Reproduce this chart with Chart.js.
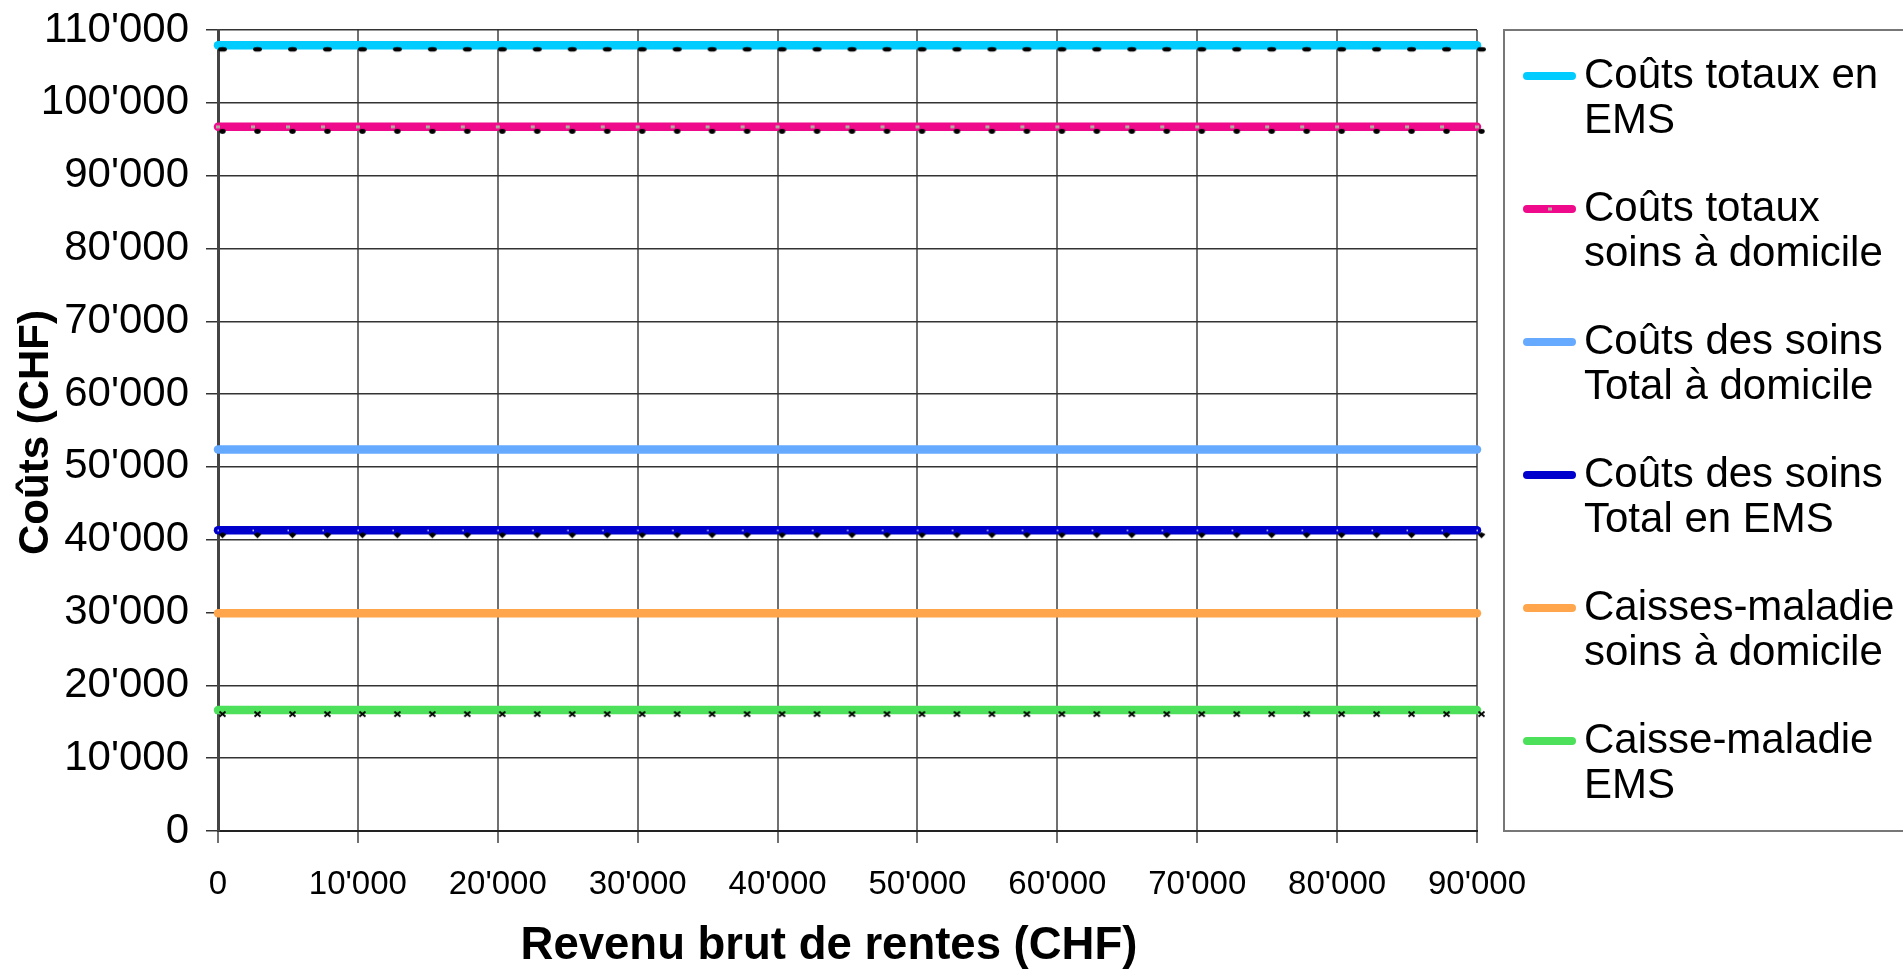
<!DOCTYPE html>
<html>
<head>
<meta charset="utf-8">
<script src="https://cdn.jsdelivr.net/npm/chart.js@4.4.1/dist/chart.umd.min.js"></script>
<style>
  html, body { margin: 0; padding: 0; background: #fff; }
  #wrap { width: 1903px; height: 969px; }
</style>
</head>
<body>
<div id="wrap"><canvas id="myChart" width="1903" height="969"></canvas></div>
<script>
// revenue steps (CHF)
var revenus = [0, 2500, 5000, 7500, 10000, 12500, 15000, 17500, 20000, 22500, 25000, 27500,
  30000, 32500, 35000, 37500, 40000, 42500, 45000, 47500, 50000, 52500, 55000, 57500,
  60000, 62500, 65000, 67500, 70000, 72500, 75000, 77500, 80000, 82500, 85000, 87500, 90000];

var coutsTotauxEMS = [107900, 107900, 107900, 107900, 107900, 107900, 107900, 107900, 107900, 107900,
  107900, 107900, 107900, 107900, 107900, 107900, 107900, 107900, 107900, 107900, 107900, 107900,
  107900, 107900, 107900, 107900, 107900, 107900, 107900, 107900, 107900, 107900, 107900, 107900,
  107900, 107900, 107900];
var coutsTotauxDomicile = [96700, 96700, 96700, 96700, 96700, 96700, 96700, 96700, 96700, 96700,
  96700, 96700, 96700, 96700, 96700, 96700, 96700, 96700, 96700, 96700, 96700, 96700, 96700,
  96700, 96700, 96700, 96700, 96700, 96700, 96700, 96700, 96700, 96700, 96700, 96700, 96700, 96700];
var soinsTotalDomicile = [52400, 52400, 52400, 52400, 52400, 52400, 52400, 52400, 52400, 52400,
  52400, 52400, 52400, 52400, 52400, 52400, 52400, 52400, 52400, 52400, 52400, 52400, 52400,
  52400, 52400, 52400, 52400, 52400, 52400, 52400, 52400, 52400, 52400, 52400, 52400, 52400, 52400];
var soinsTotalEMS = [41300, 41300, 41300, 41300, 41300, 41300, 41300, 41300, 41300, 41300,
  41300, 41300, 41300, 41300, 41300, 41300, 41300, 41300, 41300, 41300, 41300, 41300, 41300,
  41300, 41300, 41300, 41300, 41300, 41300, 41300, 41300, 41300, 41300, 41300, 41300, 41300, 41300];
var caissesDomicile = [29900, 29900, 29900, 29900, 29900, 29900, 29900, 29900, 29900, 29900,
  29900, 29900, 29900, 29900, 29900, 29900, 29900, 29900, 29900, 29900, 29900, 29900, 29900,
  29900, 29900, 29900, 29900, 29900, 29900, 29900, 29900, 29900, 29900, 29900, 29900, 29900, 29900];
var caisseEMS = [16600, 16600, 16600, 16600, 16600, 16600, 16600, 16600, 16600, 16600,
  16600, 16600, 16600, 16600, 16600, 16600, 16600, 16600, 16600, 16600, 16600, 16600, 16600,
  16600, 16600, 16600, 16600, 16600, 16600, 16600, 16600, 16600, 16600, 16600, 16600, 16600, 16600];

var seriesNames = [
  ['Coûts totaux en', 'EMS'],
  ['Coûts totaux', 'soins à domicile'],
  ['Coûts des soins', 'Total à domicile'],
  ['Coûts des soins', 'Total en EMS'],
  ['Caisses-maladie', 'soins à domicile'],
  ['Caisse-maladie', 'EMS']
];
var seriesValues = [coutsTotauxEMS, coutsTotauxDomicile, soinsTotalDomicile, soinsTotalEMS, caissesDomicile, caisseEMS];
var seriesColors = ['#00ccff', '#ee0a8a', '#66aaff', '#0000cc', '#ffa64d', '#4de05a'];
var seriesMarkers = ['dash', 'dot', null, 'diamond', null, 'cross'];

var yTitle = 'Coûts (CHF)';
var xTitle = 'Revenu brut de rentes (CHF)';

var FONT = '"Liberation Sans", Arial, sans-serif';

function fmt(v) {
  return String(v).replace(/\B(?=(\d{3})+(?!\d))/g, "'");
}

// marker image: black mark a few px below-right of the point, like the original
function makeMarker(kind) {
  if (!kind) return false;
  var c = document.createElement('canvas');
  c.width = 24; c.height = 24;
  var g = c.getContext('2d');
  var mx = 16.5, my = 16;
  g.fillStyle = '#000';
  g.strokeStyle = '#000';
  if (kind === 'dash') {
    g.beginPath(); g.ellipse(mx, my, 4.5, 2.3, 0, 0, Math.PI * 2); g.fill();
  } else if (kind === 'dot') {
    g.fillStyle = '#b0b0a0';
    g.fillRect(10, 10.5, 4, 3);
    g.fillStyle = '#000';
    g.beginPath(); g.ellipse(mx, my + 0.5, 3.2, 2.4, 0, 0, Math.PI * 2); g.fill();
  } else if (kind === 'diamond') {
    g.fillStyle = '#dde';
    g.fillRect(11.5, 11.5, 1.5, 1.5);
    g.fillStyle = '#000';
    g.beginPath();
    g.moveTo(mx - 4, my); g.lineTo(mx, my - 2); g.lineTo(mx + 4, my); g.lineTo(mx, my + 4);
    g.closePath(); g.fill();
  } else if (kind === 'cross') {
    g.lineWidth = 1.8;
    g.beginPath();
    g.moveTo(mx - 3, my - 2.5); g.lineTo(mx + 3, my + 2.5);
    g.moveTo(mx + 3, my - 2.5); g.lineTo(mx - 3, my + 2.5);
    g.stroke();
  }
  return c;
}

var datasets = seriesValues.map(function(vals, i) {
  var marker = makeMarker(seriesMarkers[i]);
  return {
    label: seriesNames[i].join(' '),
    data: vals.map(function(v, j) { return { x: revenus[j], y: v }; }),
    borderColor: seriesColors[i],
    backgroundColor: seriesColors[i],
    borderWidth: 8.5,
    borderCapStyle: 'round',
    pointStyle: marker || 'circle',
    pointRadius: marker ? 5 : 0,
    pointHoverRadius: 0,
    clip: false,
    tension: 0
  };
});

var frame = {
  id: 'frame',
  afterDraw: function(chart) {
    var ctx = chart.ctx, area = chart.chartArea;
    ctx.save();
    ctx.fillStyle = '#000';
    ctx.textAlign = 'center';
    ctx.textBaseline = 'middle';

    // axis titles
    ctx.font = 'bold 42px ' + FONT;
    ctx.save();
    ctx.translate(36, (area.top + area.bottom) / 2 + 2);
    ctx.rotate(-Math.PI / 2);
    ctx.fillText(yTitle, 0, 0);
    ctx.restore();
    ctx.font = 'bold 45.5px ' + FONT;
    ctx.fillText(xTitle, 829, 946);

    // legend box
    var lx = 1504, ly = area.top, lb = area.bottom;
    ctx.strokeStyle = '#777';
    ctx.lineWidth = 2;
    ctx.strokeRect(lx, ly, 1903 - lx + 10, lb - ly);

    ctx.textAlign = 'left';
    ctx.font = '42px ' + FONT;
    chart.data.datasets.forEach(function(ds, i) {
      var y = ly + 46 + i * 133;
      ctx.strokeStyle = ds.borderColor;
      ctx.lineWidth = 8;
      ctx.lineCap = 'round';
      ctx.beginPath(); ctx.moveTo(1527, y); ctx.lineTo(1572, y); ctx.stroke();
      if (seriesMarkers[i] === 'dot') {
        ctx.fillStyle = '#b0b0a0';
        ctx.fillRect(1548, y - 1.5, 4, 3);
      }
      ctx.fillStyle = '#000';
      seriesNames[i].forEach(function(line, k) {
        ctx.fillText(line, 1584, y + k * 45);
      });
    });
    ctx.restore();
  }
};

var ctx = document.getElementById('myChart').getContext('2d');
var chart = new Chart(ctx, {
  type: 'line',
  data: { datasets: datasets },
  plugins: [frame],
  options: {
    responsive: false,
    animation: false,
    events: [],
    layout: { padding: { left: 0, top: 30, right: 426, bottom: 0 } },
    plugins: {
      legend: { display: false },
      tooltip: { enabled: false }
    },
    scales: {
      x: {
        type: 'linear',
        min: 0,
        max: 90000,
        ticks: {
          stepSize: 10000,
          padding: 22,
          color: '#000',
          font: { family: FONT, size: 33 },
          maxRotation: 0,
          callback: function(v) { return fmt(v); }
        },
        grid: { color: '#707070', lineWidth: 2, tickLength: 12 },
        border: { color: '#222', width: 2 },
        afterFit: function(scale) {
          scale.height = 969 - 831;
          scale.paddingLeft = 0; scale.paddingRight = 0;
        }
      },
      y: {
        min: 0,
        max: 110000,
        ticks: {
          stepSize: 10000,
          padding: 17,
          color: '#000',
          font: { family: FONT, size: 42 },
          callback: function(v) { return fmt(v); }
        },
        grid: { color: '#333', lineWidth: 1.5, tickLength: 12 },
        border: { color: '#444', width: 3 },
        afterFit: function(scale) {
          scale.width = 218;
          scale.paddingTop = 0; scale.paddingBottom = 0;
        }
      }
    }
  }
});
</script>
</body>
</html>
